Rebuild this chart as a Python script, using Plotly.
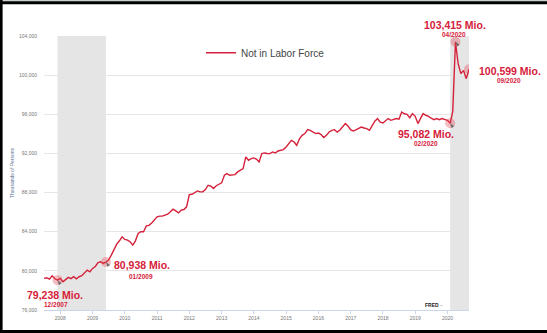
import pandas as pd
import plotly.graph_objects as go

# Monthly values, Jul 2007 .. Sep 2020 (thousands of persons)
start_month = "2007-07-01"
nilf = [
    79230, 79300, 79160, 79500, 79190, 79050, 79234, 78890, 79100, 79335, 79200, 79400,   # 2007-07 .. 2008-06
    79190, 79400, 79500, 79740, 80080, 79910, 80250, 80450, 80830, 80930, 80760, 80900,   # 2008-07 .. 2009-06
    81100, 81610, 82190, 82730, 83070, 83480, 83210, 83140, 82970, 82630, 83070, 83820,   # 2009-07 .. 2010-06
    84000, 84000, 84600, 84650, 84900, 85250, 85520, 85590, 85590, 85700, 85790, 86030,   # 2010-07 .. 2011-06
    86300, 86130, 85920, 86200, 86270, 86540, 87800, 87830, 87970, 88170, 88070, 88070,   # 2011-07 .. 2012-06
    88310, 88750, 88650, 88410, 88700, 88820, 88990, 89770, 89940, 89770, 89770, 89840,   # 2012-07 .. 2013-06
    90110, 90280, 90450, 91640, 91300, 91470, 91540, 91400, 91130, 91980, 92050, 92000,   # 2013-07 .. 2014-06
    91980, 92150, 92050, 92250, 92320, 92390, 92660, 93000, 93340, 93170, 92830, 93500,   # 2014-07 .. 2015-06
    93850, 94030, 94430, 94360, 94190, 94030, 94090, 93920, 93620, 93850, 94190, 94360,   # 2015-07 .. 2016-06
    94430, 94190, 94400, 94700, 95050, 94800, 94400, 94290, 94430, 94600, 94700, 94600,   # 2016-07 .. 2017-06
    94530, 94360, 94800, 95300, 95560, 95200, 95110, 95380, 95560, 95380, 95450, 95560,   # 2017-07 .. 2018-06
    95500, 96230, 96050, 96000, 95650, 96070, 95790, 95050, 95560, 96070, 95900, 95790,   # 2018-07 .. 2019-06
    95600, 95450, 95560, 95450, 95560, 95450, 95380, 95082, 96300, 103415, 101170, 100150, # 2019-07 .. 2020-06
    100490, 99640, 100599,                                                                 # 2020-07 .. 2020-09
]
dates = pd.date_range(start_month, periods=len(nilf), freq="MS")

series_name = "Not in Labor Force"
y_title = "Thousands of Persons"

# Recessions (shaded)
rec_start = ["2007-12-01", "2020-02-01"]
rec_end = ["2009-06-01", "2020-09-01"]

# Highlighted points
hl_dates = ["2007-12-01", "2009-06-01", "2020-02-01", "2020-04-01", "2020-09-01"]
hl_labels = ["79,238 Mio.", "80,938 Mio.", "95,082 Mio.", "103,415 Mio.", "100,599 Mio."]
hl_sub = ["12/2007", "01/2009", "02/2020", "04/2020", "09/2020"]

year_ticks = [f"{y}-01-01" for y in range(2008, 2021)]
year_text = [str(y) for y in range(2008, 2021)]

s = pd.Series(nilf, index=dates)
hl_vals = [s[pd.Timestamp(d)] for d in hl_dates]

RED = "#d5213a"
FONT = "Liberation Sans, Arial, sans-serif"

fig = go.Figure()
fig.add_trace(go.Scatter(x=dates, y=nilf, mode="lines", name=series_name,
                         line=dict(color=RED, width=1.4), hoverinfo="skip"))
fig.add_trace(go.Scatter(x=hl_dates, y=hl_vals, mode="markers", showlegend=False,
                         marker=dict(size=10, color="rgba(225,70,80,0.35)", line=dict(width=0)),
                         hoverinfo="skip"))
fig.add_trace(go.Scatter(x=hl_dates, y=hl_vals, mode="markers", showlegend=False,
                         marker=dict(size=5, symbol="arrow", angle=-35, color="#6b6b6b",
                                     line=dict(width=0)),
                         hoverinfo="skip"))

for a, b in zip(rec_start, rec_end):
    fig.add_shape(type="rect", xref="x", yref="paper", x0=a, x1=b, y0=0, y1=1,
                  fillcolor="#e5e5e5", line=dict(width=0), layer="between")

# label offsets (px) for each highlighted point: (main dx, dy, anchor), (sub dx, dy)
offs = [
    ((-3, -15, "center"), (-2, -24)),
    ((6, -3, "left"), (35, -14)),
    ((-24, -11, "center"), (-24, -20)),
    ((0, 17, "center"), (-1, 7)),
    ((8, -1.5, "left"), (40, -11)),
]
for d, v, lab, sub, ((mx, my, anc), (sx, sy)) in zip(hl_dates, hl_vals, hl_labels, hl_sub, offs):
    fig.add_annotation(x=d, y=v, text=f"<b>{lab}</b>", showarrow=False, xanchor=anc,
                       yanchor="middle", xshift=mx, yshift=my,
                       font=dict(family=FONT, size=10.5, color=RED))
    fig.add_annotation(x=d, y=v, text=f"<b>{sub}</b>", showarrow=False, xanchor="center",
                       yanchor="middle", xshift=sx, yshift=sy,
                       font=dict(family=FONT, size=6.5, color=RED))

fig.add_annotation(xref="paper", yref="paper", x=(445 - 44) / 425, y=(310 - 305) / 274,
                   text="<b>FRED</b><span style='color:#999'> ~</span>", showarrow=False,
                   xanchor="right", yanchor="middle",
                   font=dict(family=FONT, size=5, color="#222"))

# outer frame like the screenshot
W, H, L, T, PW, PH = 547, 333, 44, 36, 425, 274
def px(x): return (x - L) / PW
def py(y): return (T + PH - y) / PH
frame = [
    (0, 0, W, 1.2, "#c9d2c9"),
    (0, 1.2, W, 4.3, "#000000"),
    (0, 0, 2.6, H, "#000000"),
    (0, 330, W, H, "#000000"),
]
for x0, y0, x1, y1, c in frame:
    fig.add_shape(type="rect", xref="paper", yref="paper", x0=px(x0), x1=px(x1),
                  y0=py(y1), y1=py(y0), fillcolor=c, line=dict(width=0), layer="above")

fig.update_layout(
    width=W, height=H,
    margin=dict(l=L, r=W - L - PW, t=T, b=H - T - PH, autoexpand=False),
    paper_bgcolor="white", plot_bgcolor="white",
    font=dict(family=FONT, color="#666"),
    showlegend=True,
    legend=dict(x=(201 - L) / PW, y=py(52.7), xanchor="left", yanchor="middle",
                bgcolor="rgba(0,0,0,0)", font=dict(family=FONT, size=10, color="#444"),
                itemwidth=30),
    xaxis=dict(type="date", range=[dates[0], dates[-1]], tickvals=year_ticks,
               ticktext=year_text, showgrid=False, zeroline=False, automargin=False,
               showline=True, linecolor="#ccd6eb", linewidth=1,
               ticks="outside", ticklen=3, tickcolor="#ccd6eb",
               tickfont=dict(family=FONT, size=5, color="#777")),
    yaxis=dict(range=[76000, 104000], dtick=4000, tickformat=",", showgrid=True,
               gridcolor="#e6e6e6", gridwidth=1, zeroline=False, showline=False,
               automargin=False,
               ticklabelstandoff=6, tickfont=dict(family=FONT, size=5, color="#777"),
               title=dict(text=y_title, font=dict(family=FONT, size=5, color="#5c6f94"),
                          standoff=4)),
)

fig.write_html("out.html")
